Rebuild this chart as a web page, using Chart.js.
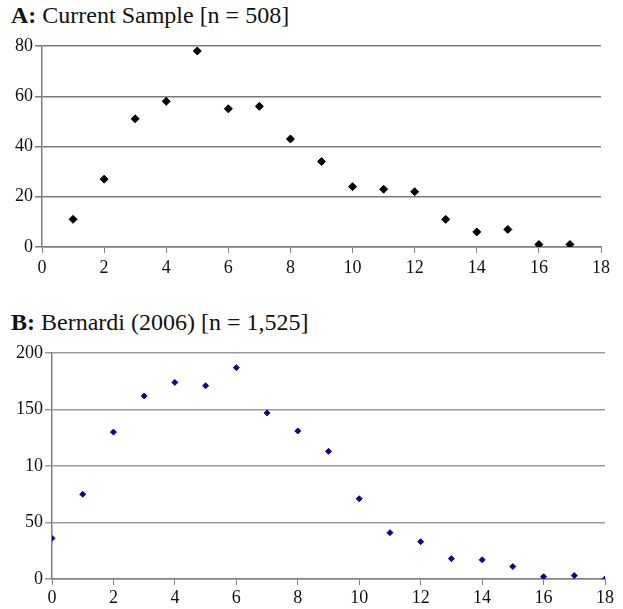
<!DOCTYPE html>
<html lang="en">
<head>
<meta charset="UTF-8">
<title>Scatter panels</title>
<script src="https://cdn.jsdelivr.net/npm/chart.js"></script>
<style>
  body { margin: 0; background: #fff; width: 623px; height: 609px; position: relative; overflow: hidden; font-family: 'Liberation Serif', serif; }
  .title { position: absolute; left: 11px; font-family: 'Liberation Serif', serif; font-size: 24px; color: #111; white-space: nowrap; line-height: 1; }
  .title b { font-weight: bold; }
  .box { position: absolute; left: 0; width: 623px; }
</style>
</head>
<body>
  <div class="title" style="top: 3px;"><b>A:</b> Current Sample [n = 508]</div>
  <div class="box" style="top: 0; height: 290px;"><canvas id="chartA"></canvas></div>

  <div class="title" style="top: 310px;"><b>B:</b> Bernardi (2006) [n = 1,525]</div>
  <div class="box" style="top: 300px; height: 309px;"><canvas id="chartB"></canvas></div>

<script>
// Panel A: current sample
const xA = [1, 2, 3, 4, 5, 6, 7, 8, 9, 10, 11, 12, 13, 14, 15, 16, 17];
const yA = [11, 27, 51, 58, 78, 55, 56, 43, 34, 24, 23, 22, 11, 6, 7, 1, 1];
const yTicksA = ['0', '20', '40', '60', '80'];

// Panel B: Bernardi (2006)
const xB = [0, 1, 2, 3, 4, 5, 6, 7, 8, 9, 10, 11, 12, 13, 14, 15, 16, 17, 18];
const yB = [36, 75, 130, 162, 174, 171, 187, 147, 131, 113, 71, 41, 33, 18, 17, 11, 2, 3, 0];
const yTicksB = ['0', '50', '10', '150', '200'];   // "100" is clipped to "10" in the original

const xTicks = ['0', '2', '4', '6', '8', '10', '12', '14', '16', '18'];

const tickFont = { family: "'Liberation Serif', serif", size: 18 };

function makeChart(id, xs, ys, yLabels, yMax, yStep, opts) {
    const points = xs.map((x, i) => ({ x: x, y: ys[i] }));
    return new Chart(document.getElementById(id), {
        type: 'scatter',
        data: {
            datasets: [{
                data: points,
                pointStyle: 'rectRot',
                pointRadius: opts.radius,
                pointHoverRadius: opts.radius,
                backgroundColor: opts.color,
                borderColor: opts.color,
                borderWidth: 1
            }]
        },
        options: {
            responsive: true,
            maintainAspectRatio: false,
            animation: false,
            layout: { padding: opts.padding },
            plugins: { legend: { display: false }, tooltip: { enabled: false } },
            scales: {
                x: {
                    type: 'linear',
                    min: 0,
                    max: 18,
                    afterFit: s => { s.height = opts.xHeight; },
                    ticks: {
                        stepSize: 2,
                        color: '#111',
                        font: tickFont,
                        padding: opts.xPad,
                        maxRotation: 0,
                        callback: (v, i) => xTicks[i]
                    },
                    grid: { drawOnChartArea: false, drawTicks: true, tickLength: 6, color: '#808080' },
                    border: { color: '#808080', width: 1.5 }
                },
                y: {
                    min: 0,
                    max: yMax,
                    afterFit: s => { s.width = opts.yWidth; },
                    ticks: {
                        stepSize: yStep,
                        color: '#111',
                        font: tickFont,
                        padding: 2,
                        callback: (v, i) => yLabels[i]
                    },
                    grid: { color: opts.gridColor, lineWidth: 1.5, tickLength: 7 },
                    border: { color: '#808080', width: 1.5 }
                }
            }
        }
    });
}

function draw() {
    makeChart('chartA', xA, yA, yTicksA, 80, 20, {
        color: '#000',
        radius: 4,
        gridColor: '#7a7a7a',
        padding: { top: 46, right: 22, bottom: 0, left: 0 },
        xHeight: 43,
        xPad: 4,
        yWidth: 42
    });

    makeChart('chartB', xB, yB, yTicksB, 200, 50, {
        color: '#0a0a80',
        radius: 3,
        gridColor: '#9a9a9a',
        padding: { top: 53, right: 18, bottom: 0, left: 0 },
        xHeight: 30,
        xPad: 2,
        yWidth: 52
    });
}

// wait for the serif face so the canvas text is not drawn with a fallback
document.fonts.load("18px 'Liberation Serif'").then(draw, draw);
</script>
</body>
</html>
